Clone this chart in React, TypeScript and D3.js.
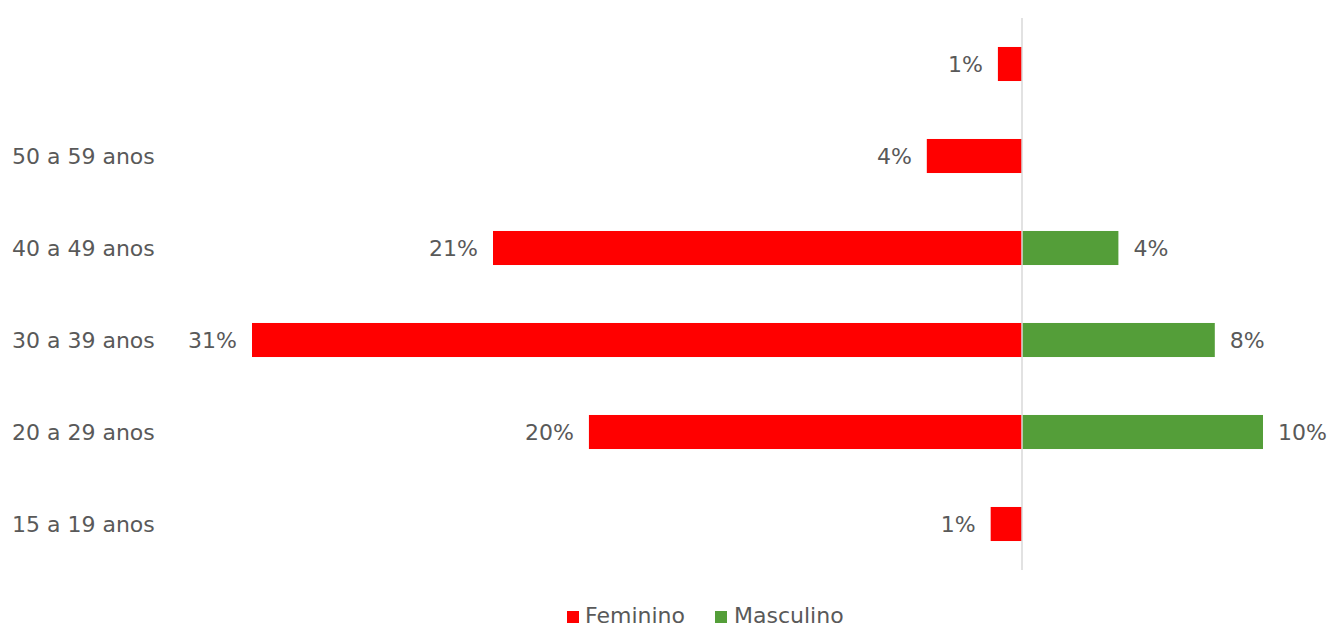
import React from "react";
import * as d3 from "d3";

const categories = ["", "50 a 59 anos", "40 a 49 anos", "30 a 39 anos", "20 a 29 anos", "15 a 19 anos"];
const femininoValues = [1.0, 3.95, 21.95, 31.95, 17.97, 1.3];
const femininoLabels = ["1%", "4%", "21%", "31%", "20%", "1%"];
const masculinoValues = [0, 0, 4.0, 8.0, 10.0, 0];
const masculinoLabels = ["", "", "4%", "8%", "10%", ""];
const seriesNames = ["Feminino", "Masculino"];
const seriesColors = ["#FF0000", "#549E39"];

const W = 1327;
const H = 630;
const FONT = "'DejaVu Sans', sans-serif";
const TXT = "#595959";

export default function App() {
  const x = d3.scaleLinear().domain([-32, 12]).range([1022 - 32 * 24.1, 1022 + 12 * 24.1]);
  const y = d3.scaleBand<string>().domain(categories.map((c, i) => String(i))).range([18, 570]).paddingInner(0.63).paddingOuter(0.315);
  const x0 = x(0);
  return (
    <div style={{ position: "absolute", left: 0, top: 0 }}>
      <svg width={W} height={H} style={{ display: "block", background: "#fff" }}>
        {categories.map((c, i) => {
          const yy = y(String(i))!;
          const bh = y.bandwidth();
          const cy = yy + bh / 2;
          return (
            <g key={i}>
              <text x={12} y={cy} dy="0.35em" fontFamily={FONT} fontSize={22} fill={TXT}>{c}</text>
              {femininoValues[i] > 0 && (
                <rect x={x(-femininoValues[i])} y={yy} width={x0 - x(-femininoValues[i])} height={bh} fill={seriesColors[0]} />
              )}
              {femininoValues[i] > 0 && (
                <text x={x(-femininoValues[i]) - 15} y={cy} dy="0.35em" textAnchor="end" fontFamily={FONT} fontSize={22} fill={TXT}>{femininoLabels[i]}</text>
              )}
              {masculinoValues[i] > 0 && (
                <rect x={x0} y={yy} width={x(masculinoValues[i]) - x0} height={bh} fill={seriesColors[1]} />
              )}
              {masculinoValues[i] > 0 && (
                <text x={x(masculinoValues[i]) + 15} y={cy} dy="0.35em" textAnchor="start" fontFamily={FONT} fontSize={22} fill={TXT}>{masculinoLabels[i]}</text>
              )}
            </g>
          );
        })}
        <line x1={x0} x2={x0} y1={18} y2={570} stroke="#D9D9D9" strokeWidth={1.5} />
        <g>
          <rect x={567} y={611} width={12} height={12} fill={seriesColors[0]} />
          <text x={585} y={623} fontFamily={FONT} fontSize={22} fill={TXT}>{seriesNames[0]}</text>
          <rect x={715} y={611} width={12} height={12} fill={seriesColors[1]} />
          <text x={734} y={623} fontFamily={FONT} fontSize={22} fill={TXT}>{seriesNames[1]}</text>
        </g>
      </svg>
    </div>
  );
}
